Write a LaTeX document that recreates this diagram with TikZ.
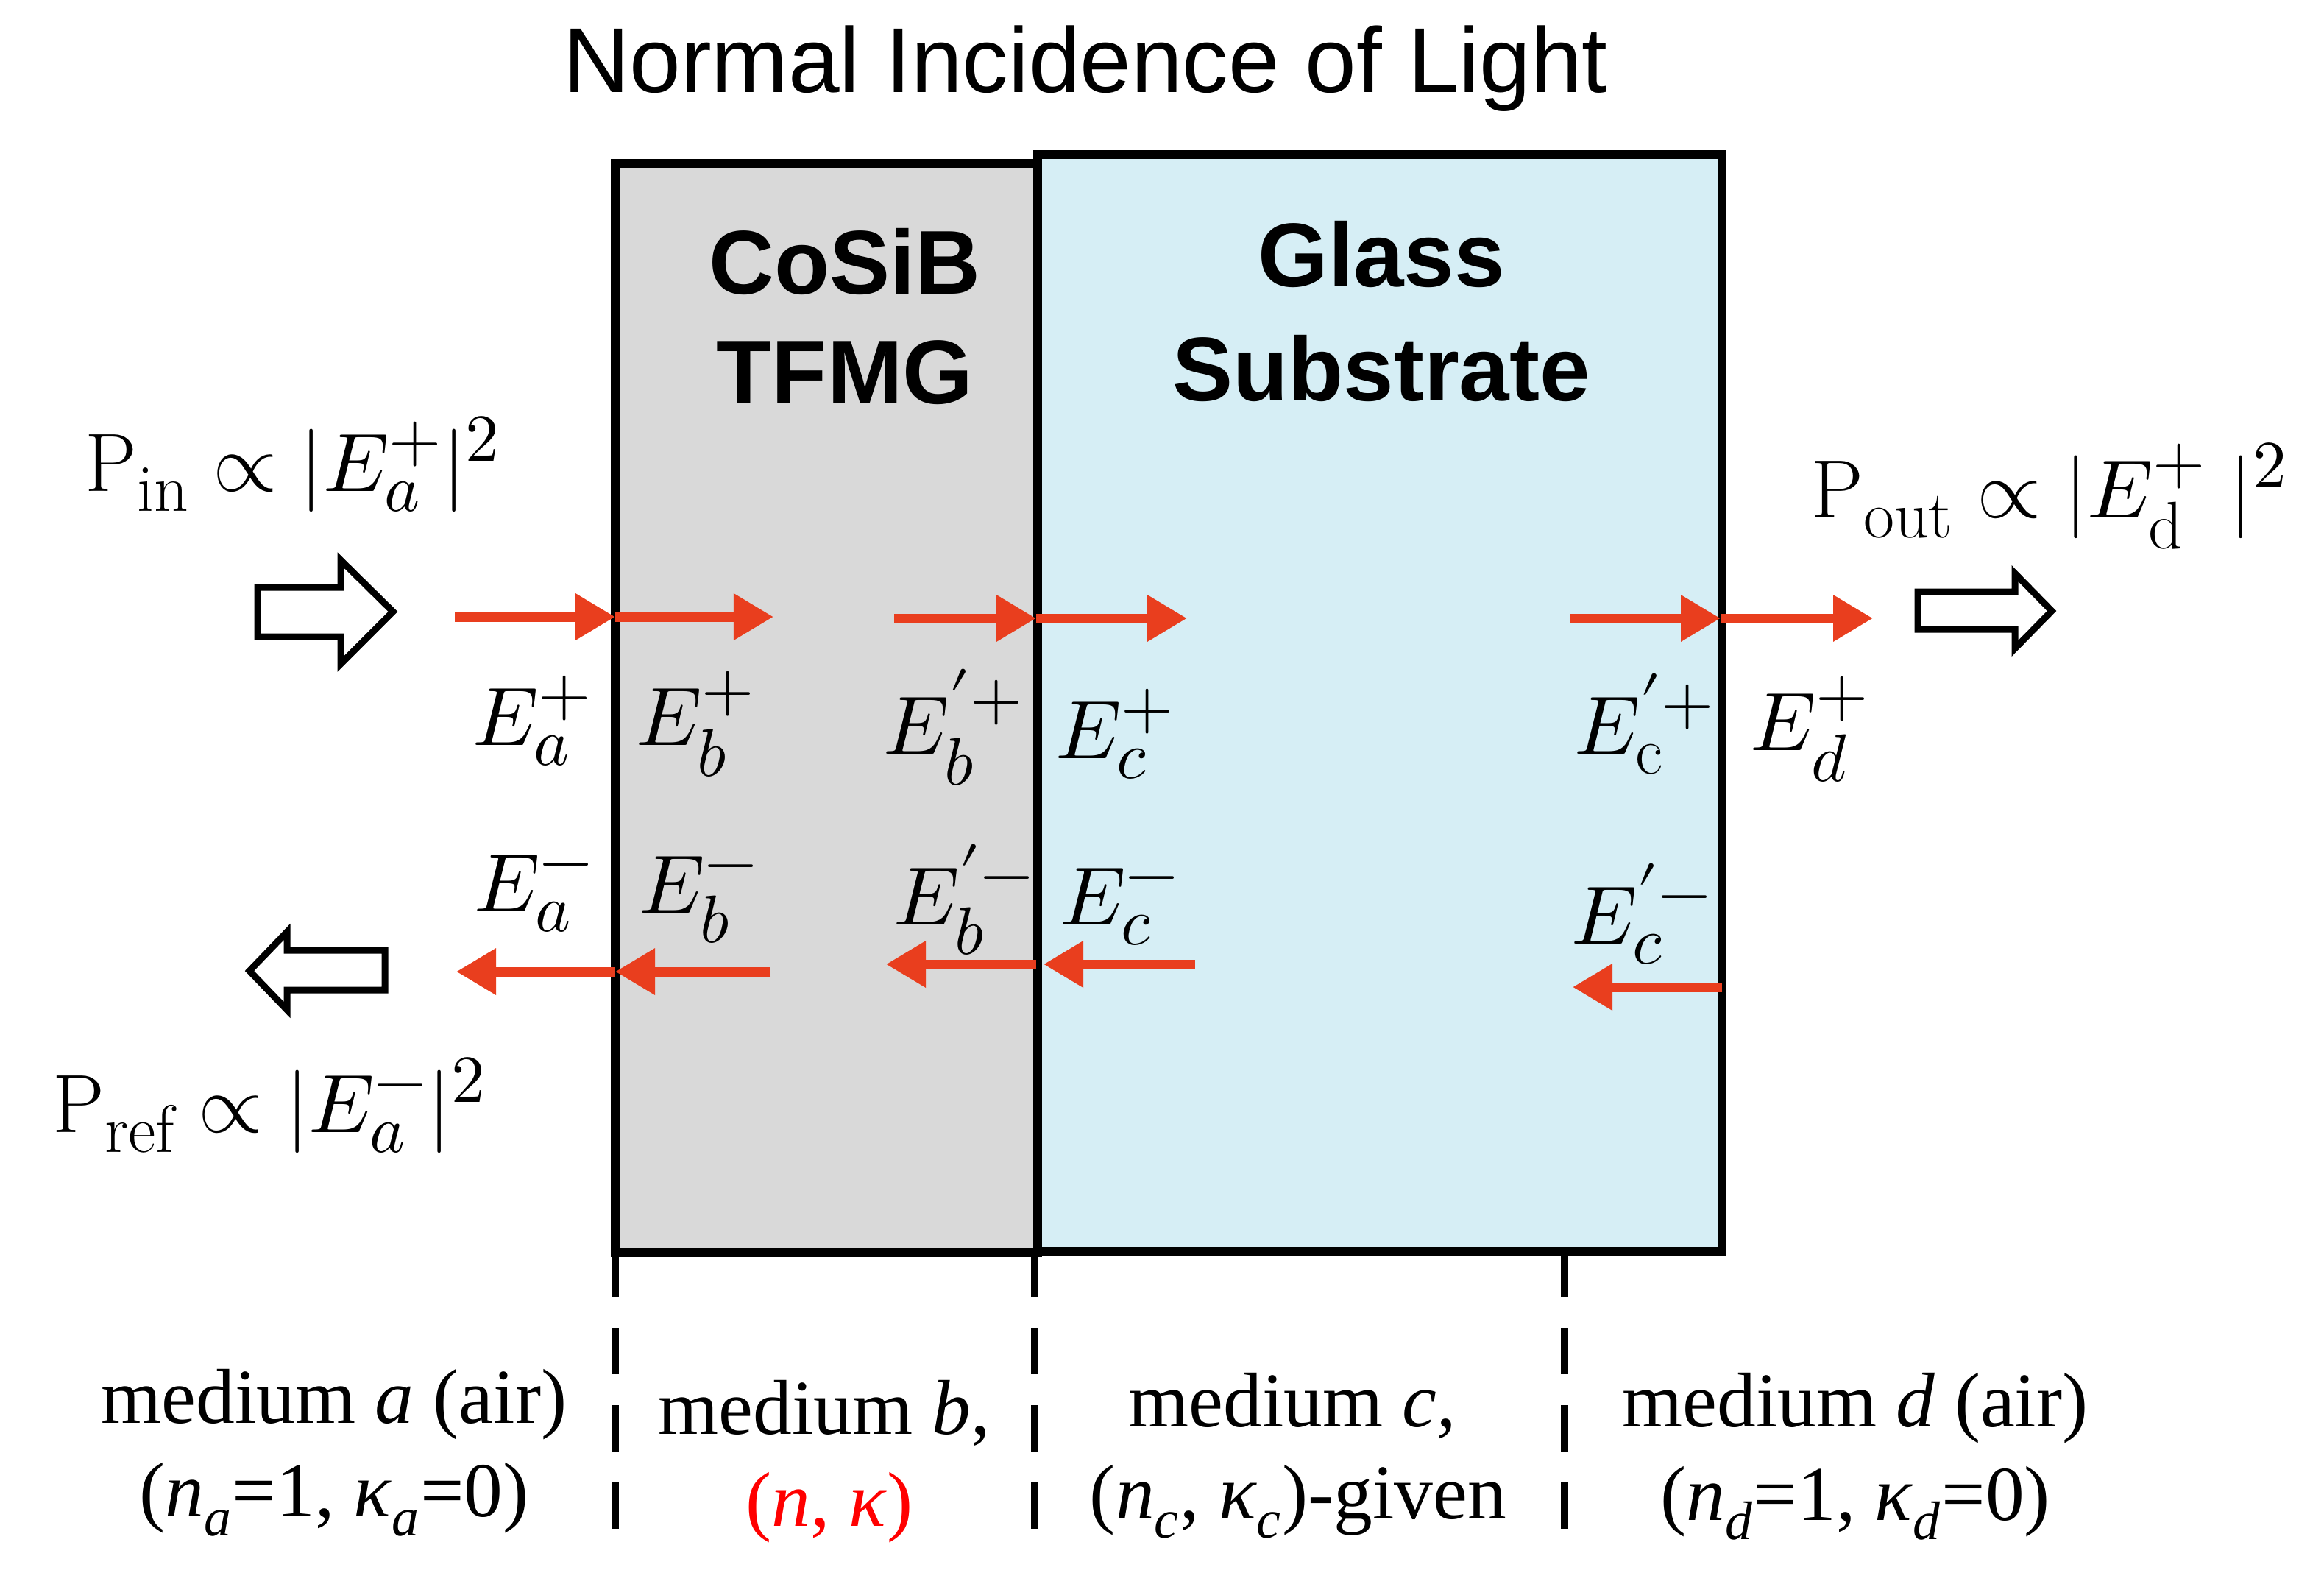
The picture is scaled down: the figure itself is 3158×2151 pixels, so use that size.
\documentclass[tikz,border=0pt]{standalone}
\usepackage{fontspec}
\usepackage{unicode-math}
\usepackage{tikz}
\usetikzlibrary{arrows.meta}
\newfontfamily\arialfont{Liberation Sans}
\newfontfamily\timesfont{Liberation Serif}
\DeclareMathSizes{32}{32}{26}{20}
\definecolor{fieldred}{RGB}{233,62,30}
\definecolor{filmgray}{RGB}{217,217,217}
\definecolor{glassblue}{RGB}{214,238,245}

\begin{document}
\begin{tikzpicture}[x=0.01cm,y=-0.01cm,
  field arrow/.style={draw=fieldred,line width=0.13cm,-{Triangle[length=0.54cm,width=0.6cm]}},
  block arrow/.style={draw=black,line width=0.09cm,fill=white,line join=miter},
  layer/.style={draw=black,line width=0.12cm},
  boundary/.style={draw=black,line width=0.1cm,dash pattern=on 0.63cm off 0.42cm,dash phase=0.07cm},
  field label/.style={anchor=base,inner sep=0pt,font=\fontsize{32}{38}\selectfont},
  medium label/.style={anchor=base,inner sep=0pt,font=\timesfont\fontsize{30}{36}\selectfont},
  layer label/.style={anchor=base,inner sep=0pt,font=\arialfont\bfseries\fontsize{35}{42}\selectfont}]

  \useasboundingbox (0,0) rectangle (3158,2151);

  \node[anchor=base,inner sep=0pt,font=\arialfont\fontsize{35.6}{42}\selectfont] (title) at (1475,125) {Normal Incidence of Light};

  \draw[layer,fill=filmgray] (836,222) rectangle (1410,1702);
  \draw[layer,fill=glassblue] (1410,210) rectangle (2340,1700);

  \node[layer label] (cosib) at (1148,399) {CoSiB};
  \node[layer label] (tfmg) at (1148,548) {TFMG};
  \node[layer label] (glass) at (1877,389) {Glass};
  \node[layer label] (substrate) at (1877,544) {Substrate};

  \coordinate (p1) at (618,838);  \coordinate (p2) at (836,838);
  \coordinate (p3) at (1051,838); \coordinate (p4) at (1215,840);
  \coordinate (p5) at (1408,840); \coordinate (p6) at (1613,840);
  \coordinate (p7) at (2133,840); \coordinate (p8) at (2338,840);
  \coordinate (p9) at (2545,840);
  \coordinate (q1) at (620,1320);  \coordinate (q2) at (836,1320);
  \coordinate (q3) at (1047,1320); \coordinate (q4) at (1204,1310);
  \coordinate (q5) at (1408,1310); \coordinate (q6) at (1418,1310);
  \coordinate (q7) at (1624,1310); \coordinate (q8) at (2137,1341);
  \coordinate (q9) at (2340,1341);

  \draw[field arrow] (p1) -- (p2);
  \draw[field arrow] (p2) -- (p3);
  \draw[field arrow] (p4) -- (p5);
  \draw[field arrow] (p5) -- (p6);
  \draw[field arrow] (p7) -- (p8);
  \draw[field arrow] (p8) -- (p9);
  \draw[field arrow] (q2) -- (q1);
  \draw[field arrow] (q3) -- (q2);
  \draw[field arrow] (q5) -- (q4);
  \draw[field arrow] (q7) -- (q6);
  \draw[field arrow] (q9) -- (q8);

  \draw[block arrow] (350,798) -- (463,798) -- (463,761) -- (534,831) -- (463,902) -- (463,865) -- (350,865) -- cycle;
  \draw[block arrow] (523,1291) -- (390,1291) -- (390,1266) -- (339,1319) -- (390,1372) -- (390,1345) -- (523,1345) -- cycle;
  \draw[block arrow] (2606,804) -- (2738,804) -- (2738,779) -- (2788,830) -- (2738,881) -- (2738,855) -- (2606,855) -- cycle;

  \node[field label] (pin) at (398,667) {$\mathrm{P}_{\mathrm{in}}\propto|E_a^{+}|^2$};
  \node[field label] (pout) at (2785,703) {$\mathrm{P}_{\mathrm{out}}\propto|E_{\mathrm{d}}^{+}\;|^2$};
  \node[field label] (pref) at (366,1538) {$\mathrm{P}_{\mathrm{ref}}\propto|E_a^{-}|^2$};

  \node[field label] (eap) at (723,1012) {$E_a^{+}$};
  \node[field label] (ebp) at (945,1012) {$E_b^{+}$};
  \node[field label] (ebpp) at (1296,1024) {$E'^{+}_{b}$};
  \node[field label] (ecp) at (1515,1030) {$E_c^{+}$};
  \node[field label] (ecpp) at (2235,1024) {$E'^{+}_{\mathrm{c}}$};
  \node[field label] (edp) at (2459,1019) {$E_d^{+}$};
  \node[field label] (eam) at (725,1238) {$E_a^{-}$};
  \node[field label] (ebm) at (949,1240) {$E_b^{-}$};
  \node[field label] (ebmm) at (1310,1256) {$E'^{-}_{b}$};
  \node[field label] (ecm) at (1521,1256) {$E_c^{-}$};
  \node[field label] (ecmm) at (2231,1282) {$E'^{-}_{c}$};

  \coordinate (da1) at (836,1706);  \coordinate (da2) at (836,2080);
  \coordinate (db1) at (1406,1706); \coordinate (db2) at (1406,2083);
  \coordinate (dc1) at (2126,1706); \coordinate (dc2) at (2126,2090);
  \draw[boundary] (da1) -- (da2);
  \draw[boundary] (db1) -- (db2);
  \draw[boundary] (dc1) -- (dc2);

  \node[medium label] (meda) at (454,1933) {medium \textit{a} (air)};
  \node[medium label] (nka) at (454,2060) {(\textit{n}\textsubscript{\textit{a}}=1, \textit{κ}\textsubscript{\textit{a}}=0)};
  \node[medium label] (medb) at (1120,1948) {medium \textit{b},};
  \node[medium label,text=red] (nkb) at (1127,2073) {(\textit{n}, \textit{κ})};
  \node[medium label] (medc) at (1756,1938) {medium \textit{c},};
  \node[medium label] (nkc) at (1764,2063) {(\textit{n}\textsubscript{\textit{c}}, \textit{κ}\textsubscript{\textit{c}})-given};
  \node[medium label] (medd) at (2521,1938) {medium \textit{d} (air)};
  \node[medium label] (nkd) at (2521,2065) {(\textit{n}\textsubscript{\textit{d}}=1, \textit{κ}\textsubscript{\textit{d}}=0)};
\end{tikzpicture}
\end{document}
